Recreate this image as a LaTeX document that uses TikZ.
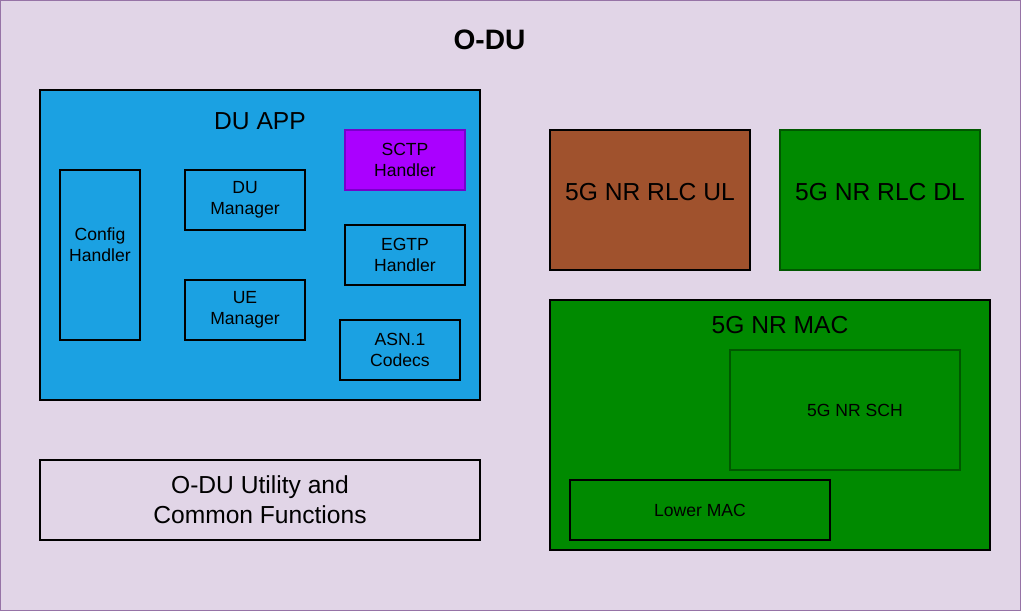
\documentclass[tikz,border=0pt]{standalone}
\usepackage{fontspec}
\setmainfont{Liberation Sans}
\usepackage{xcolor}
\usepackage{tikz}
\usetikzlibrary{positioning}

\definecolor{bgpurple}{HTML}{E1D5E7}
\definecolor{bgframe}{HTML}{9673A6}
\definecolor{appblue}{HTML}{1BA1E2}
\definecolor{sctpviolet}{HTML}{AA00FF}
\definecolor{sctpframe}{HTML}{7700CC}
\definecolor{rlcbrown}{HTML}{A0522D}
\definecolor{nrgreen}{HTML}{008A00}
\definecolor{nrframe}{HTML}{005700}

\tikzset{
  blk/.style={draw, rectangle, line width=0.8pt, inner sep=0pt, align=center, font=\fontsize{10}{12}\selectfont},
  bigtxt/.style={inner sep=0pt, align=center, font=\fontsize{14}{17}\selectfont},
  smalltxt/.style={inner sep=0pt, align=center, font=\fontsize{10}{12}\selectfont},
}

\begin{document}
\begin{tikzpicture}[x=0.2mm, y=-0.2mm]
% background frame
\fill[bgpurple] (0,0) rectangle (1021,611);
\draw[bgframe, line width=0.8pt] (0.7,0.7) rectangle (1020.3,610.3);
\node[font=\fontsize{16}{19}\selectfont\bfseries] (Title) at (489.5,40) {O-DU};

% DU APP and its parts
\node[blk, fill=appblue, minimum width=88mm, minimum height=62mm] (DuApp) at (260,245) {};
\node[bigtxt] (DuAppLabel) at (260,121) {DU APP};
\node[blk, fill=appblue, minimum width=16mm, minimum height=34mm] (Config) at (100,255) {};
\node[smalltxt] (ConfigLabel) at (100,245) {Config\\Handler};
\node[blk, fill=appblue, minimum width=24mm, minimum height=12mm] (DuMgr) at (245,200) {DU\\Manager};
\node[blk, fill=appblue, minimum width=24mm, minimum height=12mm] (UeMgr) at (245,310) {UE\\Manager};
\node[blk, fill=sctpviolet, draw=sctpframe, minimum width=24mm, minimum height=12mm] (Sctp) at (405,160) {SCTP\\Handler};
\node[blk, fill=appblue, minimum width=24mm, minimum height=12mm] (Egtp) at (405,255) {EGTP\\Handler};
\node[blk, fill=appblue, minimum width=24mm, minimum height=12mm] (Asn) at (400,350) {ASN.1\\Codecs};

% utility box
\node[blk, minimum width=88mm, minimum height=16mm, font=\fontsize{14}{17}\selectfont] (Util) at (260,500) {O-DU Utility and\\Common Functions};

% RLC
\node[blk, fill=rlcbrown, minimum width=40mm, minimum height=28mm] (RlcUl) at (650,200) {};
\node[bigtxt] (RlcUlLabel) at (650,192) {5G NR RLC UL};
\node[blk, fill=nrgreen, draw=nrframe, minimum width=40mm, minimum height=28mm] (RlcDl) at (880,200) {};
\node[bigtxt] (RlcDlLabel) at (880,192) {5G NR RLC DL};

% MAC
\node[blk, fill=nrgreen, minimum width=88mm, minimum height=50mm] (Mac) at (770,425) {};
\node[bigtxt] (MacLabel) at (780,325) {5G NR MAC};
\node[blk, fill=nrgreen, draw=nrframe, line width=0.6pt, minimum width=46mm, minimum height=24mm] (Sch) at (845,410) {};
\node[smalltxt] (SchLabel) at (855,410) {5G NR SCH};
\node[blk, fill=nrgreen, minimum width=52mm, minimum height=12mm] (LowMac) at (700,510) {Lower MAC};
\end{tikzpicture}
\end{document}
